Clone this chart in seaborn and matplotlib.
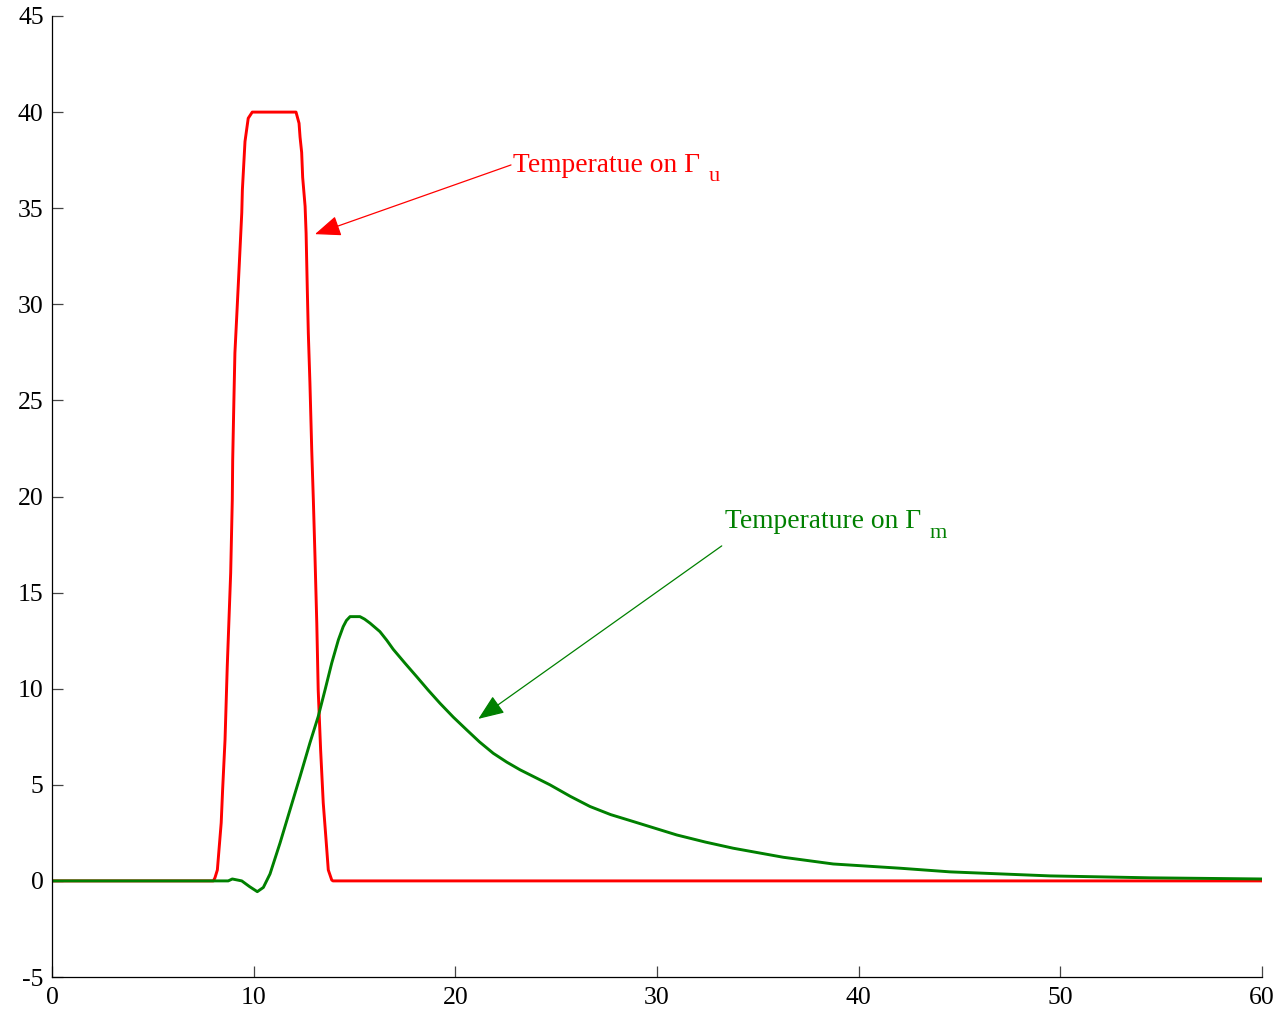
import numpy as np
import pandas as pd
import matplotlib
matplotlib.use("Agg")
import matplotlib.pyplot as plt
import seaborn as sns

# ---- data ----
red_x = [0, 8.00, 8.08, 8.20, 8.28, 8.39, 8.46, 8.58, 8.69, 8.86, 8.94, 8.96, 9.02, 9.07,
         9.16, 9.29, 9.41, 9.44, 9.52, 9.57, 9.73, 9.93,
         12.10, 12.25, 12.30, 12.38, 12.43, 12.55, 12.60, 12.66, 12.71, 12.79, 12.88, 12.96,
         13.04, 13.13, 13.20, 13.32, 13.45, 13.59, 13.70, 13.87, 13.93, 60]
red_y = [0, 0, 0.16, 0.57, 1.61, 3.02, 4.73, 7.34, 11.15, 16.02, 19.82, 21.9, 25.03, 27.47,
         29.36, 32.15, 34.76, 35.95, 37.5, 38.47, 39.68, 40,
         40, 39.42, 38.7, 37.9, 36.6, 35.1, 33.7, 30.75, 28.5, 25.9, 22.4, 19.8,
         16.9, 13.4, 9.94, 6.82, 4.06, 2.13, 0.57, 0.05, 0, 0]

green_x = [0, 8.74, 8.94, 9.41, 9.80, 10.18, 10.48, 10.81, 11.31, 11.80, 12.30, 12.79, 13.20,
           13.54, 13.87, 14.20, 14.44, 14.60, 14.78, 15.27, 15.50, 15.77, 16.26, 16.60,
           16.92, 17.50, 18.08, 18.65, 19.24, 19.90, 20.56, 21.20, 21.88, 22.55, 23.21,
           24.69, 25.70, 26.68, 27.70, 28.82, 30.98, 32.40, 33.78, 36.26, 38.74, 42.05,
           44.53, 49.49, 54.45, 60]
green_y = [0, 0, 0.1, 0, -0.30, -0.56, -0.34, 0.36, 1.98, 3.69, 5.43, 7.18, 8.55,
           9.94, 11.33, 12.54, 13.23, 13.55, 13.75, 13.75, 13.62, 13.41, 12.97, 12.52,
           12.05, 11.33, 10.63, 9.93, 9.24, 8.52, 7.86, 7.23, 6.64, 6.18, 5.78,
           5.0, 4.40, 3.87, 3.45, 3.09, 2.39, 2.02, 1.70, 1.23, 0.88, 0.66,
           0.47, 0.26, 0.16, 0.1]

x_ticks = [0, 10, 20, 30, 40, 50, 60]
y_ticks = [-5, 0, 5, 10, 15, 20, 25, 30, 35, 40, 45]

red_label = "Temperatue on \u0393"
red_sub = "u"
green_label = "Temperature on \u0393"
green_sub = "m"

# ---- style ----
sns.set_theme(style="ticks")
plt.rcParams["font.family"] = ["Liberation Serif", "DejaVu Serif"]
plt.rcParams["axes.unicode_minus"] = False

RED = "#ff0000"
GREEN = "#008000"

fig = plt.figure(figsize=(12.81, 10.17), dpi=100)
ax = fig.add_axes([52 / 1281, 40 / 1017, 1210 / 1281, 961 / 1017])

df_r = pd.DataFrame({"x": red_x, "y": red_y})
df_g = pd.DataFrame({"x": green_x, "y": green_y})
sns.lineplot(data=df_r, x="x", y="y", color=RED, lw=2.1, estimator=None, sort=False, ax=ax)
sns.lineplot(data=df_g, x="x", y="y", color=GREEN, lw=2.1, estimator=None, sort=False, ax=ax)

ax.set_xlim(0, 60)
ax.set_ylim(-5, 45)
ax.set_xticks(x_ticks)
ax.set_yticks(y_ticks)
ax.set_xticklabels([str(v) for v in x_ticks])
ax.set_yticklabels([str(v) for v in y_ticks])
ax.set_xlabel("")
ax.set_ylabel("")
for s in ["top", "right"]:
    ax.spines[s].set_visible(False)
for s in ["left", "bottom"]:
    ax.spines[s].set_color("black")
    ax.spines[s].set_linewidth(0.9)
ax.tick_params(axis="both", direction="in", length=8, width=0.9, color="#444444",
               labelsize=18.5, labelcolor="black")
ax.tick_params(axis="y", pad=6)
ax.tick_params(axis="x", pad=7)

# annotations
arrow_style = "-|>,head_length=1.0,head_width=0.4"
t1 = ax.text(22.87, 36.9, red_label, color=RED, fontsize=19.8, va="baseline", ha="left")
ax.annotate(red_sub, xy=(1, 0), xycoords=t1, xytext=(6, -2.5), textcoords="offset points",
            color=RED, fontsize=16, va="baseline", ha="left")
ax.annotate("", xy=(13.04, 33.65), xytext=(22.76, 37.25),
            arrowprops=dict(arrowstyle=arrow_style, color=RED, lw=0.9,
                            shrinkA=0, shrinkB=0, mutation_scale=16))
t2 = ax.text(33.37, 18.35, green_label, color=GREEN, fontsize=19.8, va="baseline", ha="left")
ax.annotate(green_sub, xy=(1, 0), xycoords=t2, xytext=(6, -2.5), textcoords="offset points",
            color=GREEN, fontsize=16, va="baseline", ha="left")
ax.annotate("", xy=(21.14, 8.43), xytext=(33.21, 17.43),
            arrowprops=dict(arrowstyle=arrow_style, color=GREEN, lw=0.9,
                            shrinkA=0, shrinkB=0, mutation_scale=16))

fig.savefig("out.png", dpi=100)
